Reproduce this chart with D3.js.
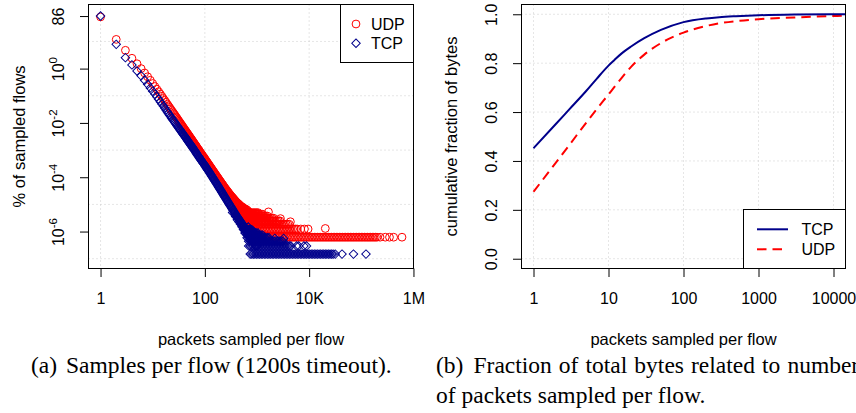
<!DOCTYPE html>
<html><head><meta charset="utf-8">
<script src="https://cdn.jsdelivr.net/npm/d3@7/dist/d3.min.js"></script>
<style>
html,body{margin:0;padding:0;background:#fff;}
svg{display:block;}
</style></head>
<body>
<svg id="chart" width="856" height="413"></svg>
<script>
// ---------------- data ----------------
// panel (a): % of sampled flows vs packets sampled per flow
const udpPoints = [
[1,80],[2,11.9],[3,4.72],[4,2.40],[5,1.51],[6,1.0],[7,0.69],[8,0.50],[9,0.372],[10,0.282],
[11,0.219],[12,0.174],[13,0.141],[14,0.115],[15,0.0955],[16,0.0794],[17,0.0676],[18,0.0575],[19,0.049],[20,0.0427],
[21,0.0372],[22,0.0327],[23,0.0288],[24,0.0257],[25,0.0229],[26,0.0207],[27,0.0186],[28,0.0166],[29,0.0152],
[260,2.9e-5],[300,2.0e-5],[340,1.5e-5],[390,1.2e-5],[420,1.0e-5],[480,7.6e-6],[520,6.5e-6],[560,5.6e-6],
[620,4.9e-6],[680,4.3e-6],[720,3.7e-6],[780,3.7e-6],[830,3.1e-6],[880,3.1e-6],[900,2.5e-6],[950,2.46e-6],
[1660,5.3e-6],[2820,3.0e-6],[4370,2.3e-6],[6918,1.24e-6],[8128,1.24e-6],[9550,1.24e-6],[20400,1.3e-6]
];
const tcpPoints = [
[1,86],[2,7.8],[3,2.53],[4,1.37],[5,0.82],[6,0.54],[7,0.372],[8,0.263],[9,0.195],[10,0.148],
[11,0.115],[12,0.0912],[13,0.0741],[14,0.0603],[15,0.0501],[16,0.0417],[17,0.0355],[18,0.0302],[19,0.0257],[20,0.0224],
[21,0.0195],[22,0.0174],[23,0.0151],[24,0.0135],[25,0.0123],[26,0.0111],[27,0.0100],[28,0.00891],[29,0.0081],
[340,5.0e-6],[390,3.6e-6],[420,2.7e-6],[450,2.3e-6],[480,1.9e-6],[515,1.5e-6],[550,1.2e-6],[590,8.9e-7],
[680,1.48e-6],[730,1.18e-6],[790,1.04e-6],[2200,5.6e-7],[3240,5.6e-7],
[5750,2.96e-7],[6300,2.96e-7],[7940,2.96e-7],[8900,2.96e-7],[31600,1.48e-7],[42700,1.48e-7],[70800,1.48e-7],[123000,1.48e-7]
];

// dense band (30 .. 1000 packets), shared x values
const bandX = [30,31,32,33,34,35,36,37,38,39,40,41,42,43,44,45,46,47,48,49,50,51,52,53,54,55,56,57,58,59,
60,62,63,65,66,68,69,71,72,74,76,78,79,81,83,85,87,89,91,93,96,98,
100,102,105,107,110,112,115,118,120,123,126,129,132,135,138,141,145,148,151,155,158,162,166,170,174,178,182,186,191,195,
200,204,209,214,219,224,229,234,240,245,251,257,263,269,275,282,288,295,302,309,316,324,331,339,347,355,363,372,380,389,
398,407,417,427,437,447,457,468,479,490,501,513,525,537,550,562,575,589,603,617,631,646,661,676,692,708,724,741,759,776,
794,813,832,851,871,891,912,933,955,977,1000];
const udpBandY = [0.0137,0.01253,0.01146,0.01047,9.68e-3,8.91e-3,8.24e-3,7.62e-3,7.06e-3,6.58e-3,6.12e-3,5.70e-3,5.35e-3,
5.01e-3,4.70e-3,4.41e-3,4.13e-3,3.90e-3,3.68e-3,3.48e-3,3.28e-3,3.09e-3,2.94e-3,2.79e-3,2.65e-3,2.52e-3,2.39e-3,2.27e-3,
2.17e-3,2.06e-3,
1.95e-3,1.82e-3,1.71e-3,1.60e-3,1.50e-3,1.41e-3,1.32e-3,1.24e-3,1.16e-3,1.09e-3,1.02e-3,9.57e-4,8.97e-4,8.41e-4,7.89e-4,
7.40e-4,6.93e-4,6.50e-4,6.10e-4,5.71e-4,5.36e-4,5.02e-4,
4.71e-4,4.42e-4,4.14e-4,3.88e-4,3.64e-4,3.41e-4,3.20e-4,3.00e-4,2.81e-4,2.64e-4,2.47e-4,2.32e-4,2.17e-4,2.04e-4,1.91e-4,
1.79e-4,1.68e-4,1.57e-4,1.48e-4,1.38e-4,1.30e-4,1.22e-4,1.14e-4,1.07e-4,1.00e-4,9.40e-5,8.81e-5,8.26e-5,7.74e-5,7.26e-5,
6.81e-5,6.40e-5,6.01e-5,5.65e-5,5.31e-5,4.99e-5,4.69e-5,4.41e-5,4.14e-5,3.89e-5,3.66e-5,3.45e-5,3.26e-5,3.08e-5,2.90e-5,
2.74e-5,2.59e-5,2.44e-5,2.31e-5,2.18e-5,2.06e-5,1.95e-5,1.86e-5,1.77e-5,1.68e-5,1.60e-5,1.52e-5,1.44e-5,1.37e-5,1.30e-5,
1.24e-5,1.19e-5,1.14e-5,1.09e-5,1.05e-5,1.01e-5,9.66e-6,9.27e-6,8.89e-6,8.53e-6,8.18e-6,7.44e-6,8.06e-6,6.82e-6,7.44e-6,
6.2e-6,6.82e-6,5.58e-6,6.82e-6,5.58e-6,4.96e-6,6.2e-6,4.96e-6,5.58e-6,4.34e-6,4.96e-6,3.72e-6,4.96e-6,4.34e-6,3.72e-6,
4.34e-6,3.1e-6,4.34e-6,3.72e-6,3.1e-6,3.72e-6,2.48e-6,3.72e-6,3.1e-6,2.48e-6,3.1e-6];
const tcpBandY = [7.45e-3,6.82e-3,6.25e-3,5.74e-3,5.32e-3,4.91e-3,4.56e-3,4.23e-3,3.93e-3,3.66e-3,3.43e-3,3.20e-3,3.01e-3,
2.82e-3,2.65e-3,2.49e-3,2.34e-3,2.22e-3,2.09e-3,1.98e-3,1.875e-3,1.77e-3,1.69e-3,1.60e-3,1.52e-3,1.45e-3,1.38e-3,1.31e-3,
1.26e-3,1.20e-3,
1.11e-3,1.04e-3,9.77e-4,9.16e-4,8.59e-4,8.05e-4,7.55e-4,7.08e-4,6.64e-4,6.22e-4,5.83e-4,5.47e-4,5.13e-4,4.81e-4,4.51e-4,
4.23e-4,3.96e-4,3.72e-4,3.48e-4,3.27e-4,3.06e-4,2.87e-4,
2.69e-4,2.52e-4,2.36e-4,2.20e-4,2.06e-4,1.93e-4,1.80e-4,1.69e-4,1.58e-4,1.48e-4,1.38e-4,1.29e-4,1.20e-4,1.12e-4,1.05e-4,
9.77e-5,9.12e-5,8.51e-5,7.94e-5,7.41e-5,6.92e-5,6.44e-5,6.00e-5,5.58e-5,5.20e-5,4.84e-5,4.51e-5,4.20e-5,3.91e-5,3.64e-5,
3.39e-5,3.16e-5,2.94e-5,2.74e-5,2.55e-5,2.37e-5,2.21e-5,2.06e-5,1.91e-5,1.78e-5,1.66e-5,1.55e-5,1.44e-5,1.34e-5,1.25e-5,
1.16e-5,1.08e-5,1.01e-5,9.38e-6,8.73e-6,8.13e-6,7.57e-6,7.05e-6,6.56e-6,6.11e-6,5.69e-6,5.30e-6,4.93e-6,4.59e-6,4.28e-6,
3.98e-6,3.73e-6,3.50e-6,3.28e-6,3.08e-6,2.88e-6,2.70e-6,2.54e-6,2.38e-6,2.23e-6,2.09e-6,1.96e-6,1.85e-6,1.73e-6,1.63e-6,
1.53e-6,1.44e-6,1.35e-6,1.27e-6,1.19e-6,1.12e-6,1.04e-6,1.18e-6,8.9e-7,1.04e-6,7.4e-7,8.9e-7,7.4e-7,5.9e-7,8.9e-7,
5.9e-7,7.4e-7,4.44e-7,5.9e-7,4.44e-7,7.4e-7,4.44e-7,2.96e-7,5.9e-7,4.44e-7,2.96e-7];

// tail: small flow counts give rows at 1,2,3,... flows; x positions and row extents
const tailX = [398,427,457,490,525,562,603,646,692,741,794,851,912,977,1047,1122,1202,1288,1380,1479,1585,1698,1820,
1950,2089,2239,2399,2570,2754,2951,3162,3388,3631,3890,4169,4467,4786,5129,5495,5888,6310,6761,7244,7762,8318,8913,
9550,10233,10965,11749,12589,13490,14454,15488,16596,17783,19055,20417,21878,23442,25119,26915,28840];
// [value %, first x, last x]
const udpRows = [[6.2e-7,794,28840],[1.24e-6,603,5888],[1.86e-6,562,4169],[2.48e-6,525,2754],[3.1e-6,490,2089],
[3.72e-6,457,1585],[4.34e-6,457,1288],[4.96e-6,427,1047]];
const tcpRows = [[1.48e-7,741,28840],[2.96e-7,692,4467],[4.44e-7,692,3162],[5.9e-7,646,1698],[7.4e-7,646,1288],
[8.9e-7,603,1047],[1.04e-6,603,851],[1.18e-6,562,794]];
const udpFloorY = 6.2e-7;
const udpFloorX = [30900,33100,35500,38000,40700,43700,46800,50100,53700,57500,61700,66100,70800,75900,
81300,87100,93300,100000,107000,115000,123000,132000,141000,151000,162000,174000,186000,200000,229000,288000,347000,
417000,603000];

// panel (b): cumulative fraction of bytes
const cdfX   = [1,2,3,5,7,10,12,15,20,30,50,100,200,300,500,1000,3000,10000,15000];
const cdfTCP = [0.452,0.552,0.611,0.685,0.737,0.79,0.813,0.84,0.868,0.902,0.936,0.968,0.983,0.988,0.992,0.996,0.999,1.0,1.0];
const cdfUDP = [0.274,0.394,0.465,0.555,0.613,0.672,0.703,0.74,0.785,0.835,0.882,0.925,0.952,0.963,0.972,0.98,0.987,0.993,0.994];

// ticks
const xTicksA = [1, 100, 1e4, 1e6];
const xTickLabelsA = ["1","100","10K","1M"];
const yTicksA = [86, 1, 1e-2, 1e-4, 1e-6];
const yTickBaseA = ["86","10","10","10","10"];
const yTickSupA = ["","0","-2","-4","-6"];
const yGridA = [10, 0.1, 1e-3, 1e-5, 1e-7];
const xTicksB = [1,10,100,1000,10000];
const xTickLabelsB = ["1","10","100","1000","10000"];
const yTicksB = [0,0.2,0.4,0.6,0.8,1.0];
const yTickLabelsB = ["0.0","0.2","0.4","0.6","0.8","1.0"];

// ---------------- layout ----------------
const svg = d3.select('#chart');
const SANS = '"Liberation Sans", Arial, Helvetica, sans-serif';
const SERIF = '"Liberation Serif", "Times New Roman", serif';
const TOP = 4.5, BOTTOM = 268.5;
const PA = {l: 88.5, r: 413.5};
const PB = {l: 521.5, r: 845.5};
const BLUE = '#00008b', RED = '#ff0000', GRID = '#cccccc';

const xA = d3.scaleLog().domain([Math.pow(10,-0.2308), Math.pow(10,6.0008)]).range([PA.l, PA.r]);
const yA = d3.scaleLog().domain([Math.pow(10,-7.36), Math.pow(10,2.36)]).range([BOTTOM, TOP]);
const xB = d3.scaleLog().domain([Math.pow(10,-0.16), Math.pow(10,4.16)]).range([PB.l, PB.r]);
const yB = d3.scaleLinear().domain([-0.04, 1.04]).range([BOTTOM, TOP]);

const defs = svg.append('defs');
[['clipA',PA],['clipB',PB]].forEach(([id,p])=>{
  defs.append('clipPath').attr('id',id).append('rect')
    .attr('x',p.l).attr('y',TOP).attr('width',p.r-p.l).attr('height',BOTTOM-TOP);
});

function grid(xs, ys, xsc, ysc, p){
  const g = svg.append('g').attr('stroke',GRID).attr('stroke-width',1).attr('stroke-dasharray','1,3');
  g.selectAll('line.v').data(xs).join('line').attr('class','v')
    .attr('x1',d=>xsc(d)).attr('x2',d=>xsc(d)).attr('y1',TOP).attr('y2',BOTTOM);
  g.selectAll('line.h').data(ys).join('line').attr('class','h')
    .attr('x1',p.l).attr('x2',p.r).attr('y1',d=>ysc(d)).attr('y2',d=>ysc(d));
}
grid(xTicksA, yGridA, xA, yA, PA);
grid(xTicksB, yTicksB, xB, yB, PB);

// ---- panel (a) points ----
function rowPoints(rows){
  const out = [];
  rows.forEach(([v,a,b])=>tailX.forEach(x=>{ if (x>=a && x<=b) out.push([x,v]); }));
  return out;
}
const udpAll = udpPoints.concat(bandX.map((x,i)=>[x, udpBandY[i]]), rowPoints(udpRows), udpFloorX.map(x=>[x, udpFloorY]));
const tcpAll = tcpPoints.concat(bandX.map((x,i)=>[x, tcpBandY[i]]), rowPoints(tcpRows));
const gPts = svg.append('g').attr('clip-path','url(#clipA)');
gPts.append('g').selectAll('circle').data(udpAll).join('circle')
  .attr('cx',d=>xA(d[0])).attr('cy',d=>yA(d[1])).attr('r',3.9)
  .attr('fill','none').attr('stroke',RED).attr('stroke-width',1);
const diamond = d3.symbol(d3.symbolSquare, 36);
gPts.append('g').selectAll('path').data(tcpAll).join('path')
  .attr('d',diamond)
  .attr('transform',d=>`translate(${xA(d[0])},${yA(d[1])}) rotate(45)`)
  .attr('fill','none').attr('stroke',BLUE).attr('stroke-width',1);

// ---- panel (b) lines ----
const line = d3.line().x(d=>xB(d[0])).y(d=>yB(d[1])).curve(d3.curveMonotoneX);
const gL = svg.append('g').attr('clip-path','url(#clipB)').attr('fill','none').attr('stroke-width',2);
gL.append('path').datum(cdfX.map((x,i)=>[x,cdfUDP[i]])).attr('d',line)
  .attr('stroke',RED).attr('stroke-dasharray','9.5,6');
gL.append('path').datum(cdfX.map((x,i)=>[x,cdfTCP[i]])).attr('d',line)
  .attr('stroke',BLUE);

// ---- axes ----
function xAxis(sc, ticks, labels){
  const g = svg.append('g').attr('transform',`translate(0,${BOTTOM})`)
    .call(d3.axisBottom(sc).tickValues(ticks).tickFormat((d,i)=>labels[i]).tickSize(8.5).tickSizeOuter(0));
  g.attr('font-family',SANS).attr('font-size',16);
  g.select('.domain').remove();
  g.selectAll('.tick line').attr('stroke','#000');
  g.selectAll('.tick text').attr('y',35.5).attr('dy',0).attr('fill','#000');
}
xAxis(xA, xTicksA, xTickLabelsA);
xAxis(xB, xTicksB, xTickLabelsB);

function yAxis(sc, ticks, base, sup, x0, off){
  const g = svg.append('g').attr('transform',`translate(${x0},0)`)
    .call(d3.axisLeft(sc).tickValues(ticks).tickFormat('').tickSize(8.5).tickSizeOuter(0));
  g.attr('font-family',SANS).attr('font-size',16);
  g.select('.domain').remove();
  g.selectAll('.tick line').attr('stroke','#000');
  g.selectAll('.tick text').each(function(d,i){
    const t = d3.select(this).text(null)
      .attr('transform','rotate(-90)').attr('x',0).attr('y',off).attr('dy',0)
      .attr('text-anchor','middle').attr('fill','#000');
    t.append('tspan').text(base[i]);
    if (sup && sup[i]) t.append('tspan').attr('dy',-6.5).attr('font-size',11.5).text(sup[i]);
  });
}
yAxis(yA, yTicksA, yTickBaseA, yTickSupA, PA.l, -25);
yAxis(yB, yTicksB, yTickLabelsB, null, PB.l, -24.5);

// ---- boxes ----
[PA,PB].forEach(p=>{
  svg.append('rect').attr('x',p.l).attr('y',TOP).attr('width',p.r-p.l).attr('height',BOTTOM-TOP)
    .attr('fill','none').attr('stroke','#000').attr('stroke-width',1);
});

// ---- axis titles ----
const tA = svg.append('g').attr('font-family',SANS).attr('font-size',16.5).attr('fill','#000').attr('text-anchor','middle');
tA.append('text').attr('x',(PA.l+PA.r)/2).attr('y',345).text('packets sampled per flow');
tA.append('text').attr('x',(PB.l+PB.r)/2).attr('y',345).text('packets sampled per flow');
tA.append('text').attr('transform',`translate(24.5,${(TOP+BOTTOM)/2}) rotate(-90)`).text('% of sampled flows');
tA.append('text').attr('transform',`translate(457,${(TOP+BOTTOM)/2}) rotate(-90)`).text('cumulative fraction of bytes');

// ---- legends ----
const lgA = svg.append('g').attr('font-family',SANS).attr('font-size',16);
lgA.append('rect').attr('x',340.5).attr('y',TOP).attr('width',PA.r-340.5).attr('height',62.5-TOP)
  .attr('fill','#fff').attr('stroke','#000');
lgA.append('circle').attr('cx',356).attr('cy',24).attr('r',3.9).attr('fill','none').attr('stroke',RED);
lgA.append('path').attr('d',diamond).attr('transform','translate(356,43.3) rotate(45)').attr('fill','none').attr('stroke',BLUE);
lgA.append('text').attr('x',371).attr('y',30).text('UDP');
lgA.append('text').attr('x',371).attr('y',49.3).text('TCP');

const lgB = svg.append('g').attr('font-family',SANS).attr('font-size',16);
lgB.append('rect').attr('x',743.5).attr('y',209.5).attr('width',PB.r-743.5).attr('height',BOTTOM-209.5)
  .attr('fill','#fff').attr('stroke','#000');
lgB.append('line').attr('x1',757).attr('x2',788).attr('y1',229.3).attr('y2',229.3).attr('stroke',BLUE).attr('stroke-width',2);
lgB.append('line').attr('x1',757).attr('x2',788).attr('y1',249.3).attr('y2',249.3).attr('stroke',RED).attr('stroke-width',2).attr('stroke-dasharray','9.5,6');
lgB.append('text').attr('x',801.5).attr('y',235).text('TCP');
lgB.append('text').attr('x',801.5).attr('y',255).text('UDP');

// ---- captions ----
const cap = svg.append('g').attr('font-family',SERIF).attr('font-size',23.5).attr('fill','#000');
const c1 = cap.append('text').attr('x',31).attr('y',373);
c1.append('tspan').text('(a)');
c1.append('tspan').attr('dx',3).text(' Samples per flow (1200s timeout).');
const c2 = cap.append('text').attr('x',436).attr('y',373).attr('word-spacing',1.2);
c2.append('tspan').text('(b)');
c2.append('tspan').attr('dx',3).text(' Fraction of total bytes related to number');
cap.append('text').attr('x',436).attr('y',403).text('of packets sampled per flow.');
</script>
</body></html>
